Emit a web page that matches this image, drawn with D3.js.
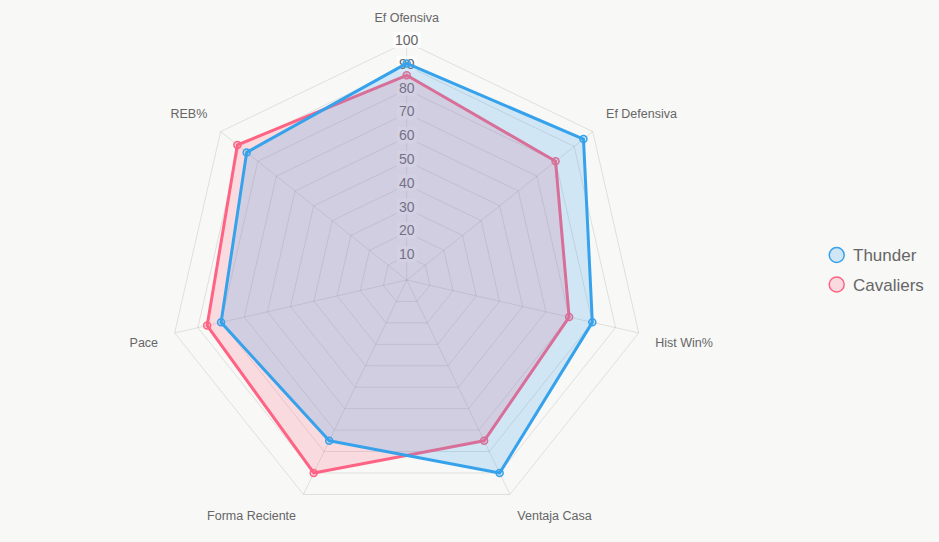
<!DOCTYPE html>
<html>
<head>
<meta charset="utf-8">
<script src="https://cdn.jsdelivr.net/npm/d3@7"></script>
<style>
  body { margin: 0; background: #f8f8f7; }
  svg { display: block; font-family: "Liberation Sans", Arial, Helvetica, sans-serif; }
  .grid { fill: none; stroke: rgba(0,0,0,0.1); stroke-width: 1; }
  .tick text { fill: #666; font-size: 14px; }
  .point-label { fill: #666; font-size: 12.5px; }
  .legend text { fill: #666; font-size: 17px; }
</style>
</head>
<body>
<div id="chart"></div>
<script>
const labels = ["Ef Ofensiva", "Ef Defensiva", "Hist Win%", "Ventaja Casa", "Forma Reciente", "Pace", "REB%"];
const thunder = [91, 95, 80, 90, 75, 80, 86];
const cavaliers = [86, 80, 70, 75, 90, 86, 91];
const ticks = [10, 20, 30, 40, 50, 60, 70, 80, 90, 100];

const series = [
  { name: "Thunder", values: thunder, color: "rgb(54,162,235)", fill: "rgba(54,162,235,0.2)" },
  { name: "Cavaliers", values: cavaliers, color: "rgb(255,99,132)", fill: "rgba(255,99,132,0.2)" }
];

const width = 939, height = 542;
const cx = 406.7, cy = 280, R = 238;

const svg = d3.select("#chart").append("svg")
  .attr("width", width)
  .attr("height", height);

const r = d3.scaleLinear().domain([0, 100]).range([0, R]);
const angle = d3.scaleLinear().domain([0, labels.length]).range([0, 2 * Math.PI]);

function pos(i, rad) {
  let a = angle(i);
  return [cx + rad * Math.sin(a), cy - rad * Math.cos(a)];
}

const g = svg.append("g");

// grid polygons
ticks.forEach(t => {
  let pts = labels.map((d, i) => pos(i, r(t)));
  g.append("polygon")
    .attr("class", "grid")
    .attr("points", pts.map(p => p.join(",")).join(" "));
});

// spokes
labels.forEach((d, i) => {
  let p = pos(i, R);
  g.append("line")
    .attr("class", "grid")
    .attr("x1", cx).attr("y1", cy)
    .attr("x2", p[0]).attr("y2", p[1]);
});

// point labels
labels.forEach((d, i) => {
  let a = angle(i);
  let p = pos(i, R + 17);
  let s = Math.sin(a), c = Math.cos(a);
  let anchor = Math.abs(s) < 0.05 ? "middle" : (s > 0 ? "start" : "end");
  let y = c > 0 ? p[1] - 3 : p[1] + 10;
  g.append("text")
    .attr("class", "point-label")
    .attr("x", p[0])
    .attr("y", y)
    .attr("text-anchor", anchor)
    .text(d);
});

// tick labels with backdrop
const tickG = g.append("g").attr("class", "tick");
ticks.forEach(t => {
  let y = cy - r(t);
  let txt = tickG.append("text")
    .attr("x", cx)
    .attr("y", y + 3)
    .attr("text-anchor", "middle")
    .text(t);
  let bb = txt.node().getBBox();
  tickG.insert("rect", "text")
    .attr("x", bb.x - 2)
    .attr("y", bb.y)
    .attr("width", bb.width + 4)
    .attr("height", bb.height)
    .attr("fill", "rgba(255,255,255,0.75)");
});

// datasets, first one drawn on top
const line = d3.lineRadial()
  .angle((d, i) => angle(i))
  .radius(d => r(d))
  .curve(d3.curveLinearClosed);

series.slice().reverse().forEach(s => {
  let sg = g.append("g").attr("transform", "translate(" + cx + "," + cy + ")");
  sg.append("path")
    .attr("d", line(s.values))
    .attr("fill", s.fill)
    .attr("stroke", s.color)
    .attr("stroke-width", 3)
    .attr("stroke-linejoin", "round");
  sg.selectAll("circle")
    .data(s.values)
    .enter().append("circle")
    .attr("cx", (d, i) => r(d) * Math.sin(angle(i)))
    .attr("cy", (d, i) => -r(d) * Math.cos(angle(i)))
    .attr("r", 3.5)
    .attr("fill", s.fill)
    .attr("stroke", s.color)
    .attr("stroke-width", 1.5);
});

// legend
const legend = svg.append("g").attr("class", "legend");
series.forEach((s, i) => {
  let y = 255 + i * 29.5;
  legend.append("circle")
    .attr("cx", 836.7)
    .attr("cy", y)
    .attr("r", 7.5)
    .attr("fill", s.fill)
    .attr("stroke", s.color)
    .attr("stroke-width", 1.5);
  legend.append("text")
    .attr("x", 853)
    .attr("y", y + 6)
    .text(s.name);
});
</script>
</body>
</html>
